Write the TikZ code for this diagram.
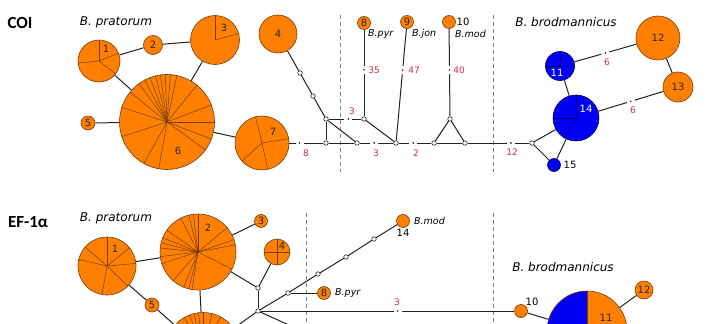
\documentclass[tikz,border=0pt]{standalone}
\usepackage{fontspec}
\setmainfont{DejaVu Sans}
\newfontfamily\headfont{Carlito}
\usepackage{tikz}
\usetikzlibrary{calc}
\usetikzlibrary{positioning}

\definecolor{hapOrange}{RGB}{255,128,0}
\definecolor{hapOrangeLine}{RGB}{120,60,10}
\definecolor{hapBlue}{RGB}{0,0,245}
\definecolor{hapBlueLine}{RGB}{0,0,100}
\definecolor{edgeGrey}{RGB}{35,35,35}
\definecolor{mutRed}{RGB}{205,45,70}

\newcommand\hapnumfont{\fontsize{10}{10}\selectfont}
\newcommand\mutfont{\fontsize{9}{9}\selectfont}
\newcommand\taxfont{\fontsize{12}{12}\selectfont\itshape}
\newcommand\shorttaxfont{\fontsize{9.5}{10}\selectfont\itshape}

\tikzset{divider/.style={draw=gray, dash pattern=on 4pt off 3pt, line width=0.7pt}}
\tikzset{hap/.style={circle, draw=hapOrangeLine, fill=hapOrange, inner sep=0pt, minimum size=#1, text=black!85, font=\hapnumfont, line width=0.6pt}}
\tikzset{hapb/.style={hap=#1, draw=hapBlueLine, fill=hapBlue, text=white}}
\tikzset{mv/.style={circle, draw=edgeGrey, fill=white, inner sep=0pt, minimum size=4.5pt, line width=0.6pt}}
\tikzset{link/.style={draw=edgeGrey, line width=1pt}}
\tikzset{slice/.style={draw=hapOrangeLine, line width=0.5pt}}
\tikzset{brk/.style={fill=white, inner sep=0pt, minimum width=8pt, minimum height=3pt, sloped,
    path picture={\fill[edgeGrey] (path picture bounding box.center) circle (0.9pt);}}}
\tikzset{mut/.style={text=mutRed, font=\mutfont, inner sep=0pt}}

\begin{document}
\begin{tikzpicture}[x=1pt, y=-1pt]
	% Default action for each node
	\tikzstyle{every node}=[inner sep=1pt];
	\useasboundingbox (0,0) rectangle (715,324);
	\clip (0,0) rectangle (715,324);

	% ---------------- COI ----------------
	\node[font=\headfont\bfseries\fontsize{17}{17}\selectfont] (coiTitle) at (20,23) {COI};
	\node[font=\taxfont] (coiPrat) at (116,22) {B. pratorum};
	\node[font=\taxfont] (coiBrod) at (566,22) {B. brodmannicus};

	\draw[divider] (340,15) -- (340,172);
	\draw[divider] (493,15) -- (493,172);

	\node[hap=42pt] (c1) at (99,61) {};
	\node[hap=19pt] (c2) at (153,45) {2};
	\node[hap=49pt] (c3) at (215,40) {};
	\node[hap=38pt] (c4) at (278,34) {4};
	\node[hap=14pt] (c5) at (88,123) {5};
	\node[hap=95pt] (c6) at (167,122) {};
	\node[hap=54pt] (c7) at (262,143) {};
	\node[hap=13pt] (c8) at (364,23) {8};
	\node[hap=13pt] (c9) at (407,22) {9};
	\node[hap=13pt] (c10) at (449,22) {};
	\node[hapb=29pt] (c11) at (560,66) {};
	\node[hap=44pt] (c12) at (658,38) {12};
	\node[hap=30pt] (c13) at (678,87) {13};
	\node[hapb=46pt] (c14) at (576,118) {};
	\node[hapb=13pt] (c15) at (554,165) {};

	\node[mv] (cm1) at (300,73) {};
	\node[mv] (cm2) at (313,96) {};
	\node[mv] (cm3) at (326,119) {};
	\node[mv] (cm4) at (326,143) {};
	\node[mv] (cm5) at (357,143) {};
	\node[mv] (cm6) at (364,119) {};
	\node[mv] (cm7) at (396,143) {};
	\node[mv] (cm8) at (434,143) {};
	\node[mv] (cm9) at (450,119) {};
	\node[mv] (cm10) at (465,143) {};
	\node[mv] (cm11) at (532,143) {};

	% Slices
	\foreach \a in {22,90,186,322} \draw[slice] (c1.center) -- (c1.\a);
	\foreach \a in {15,90} \draw[slice] (c3.center) -- (c3.\a);
	\foreach \a in {0,21,51,78,86,92,98,104,111,118,126,141,162,198,241,260,324,339}
		\draw[slice] (c6.center) -- (c6.\a);
	\foreach \a in {9,104,222,282} \draw[slice] (c7.center) -- (c7.\a);
	\foreach \a in {90,180,5} \draw[slice, draw=hapBlueLine] (c11.center) -- (c11.\a);
	\foreach \a in {90,180,240} \draw[slice, draw=hapBlueLine] (c14.center) -- (c14.\a);

	\node[font=\hapnumfont, text=black!85] (c1n) at (106,49) {1};
	\node[font=\hapnumfont, text=black!85] (c3n) at (224,28) {3};
	\node[font=\hapnumfont, text=black!85] (c6n) at (178,151) {6};
	\node[font=\hapnumfont, text=black!85] (c7n) at (273,132) {7};
	\node[font=\hapnumfont, text=white] (c11n) at (557,73) {11};
	\node[font=\hapnumfont, text=white] (c14n) at (586,109) {14};
	\node[font=\hapnumfont] (c10n) at (463,22) {10};
	\node[font=\hapnumfont] (c15n) at (570,165) {15};

	\node[font=\shorttaxfont, anchor=west] (cPyr) at (367,34) {B.pyr};
	\node[font=\shorttaxfont, anchor=west] (cJon) at (411,34) {B.jon};
	\node[font=\shorttaxfont, anchor=west] (cMod) at (454,34) {B.mod};

	% Edges
	\draw[link] (c1) -- (c2);
	\draw[link] (c2) -- (c3);
	\draw[link] (c1) -- (c6);
	\draw[link] (c3) -- (c6);
	\draw[link] (c5) -- (c6);
	\draw[link] (c6) -- (c7);
	\draw[link] (c4) -- (cm1);
	\draw[link] (cm1) -- (cm2);
	\draw[link] (cm2) -- (cm3);
	\draw[link] (c7) -- node[brk, pos=0.3] {} (cm4);
	\draw[link] (cm3) -- (cm4);
	\draw[link] (cm3) -- (cm5);
	\draw[link] (cm3) -- node[brk, pos=0.6] {} (cm6);
	\draw[link] (cm6) -- node[brk, pos=0.54] {} (c8);
	\draw[link] (cm6) -- (cm7);
	\draw[link] (cm7) -- node[brk, pos=0.63] {} (c9);
	\draw[link] (cm4) -- (cm5);
	\draw[link] (cm5) -- node[brk, pos=0.43] {} (cm7);
	\draw[link] (cm7) -- node[brk, pos=0.45] {} (cm8);
	\draw[link] (cm8) -- (cm9);
	\draw[link] (cm9) -- (cm10);
	\draw[link] (cm8) -- (cm10);
	\draw[link] (cm9) -- node[brk, pos=0.53] {} (c10);
	\draw[link] (cm10) -- node[brk, pos=0.7] {} (cm11);
	\draw[link] (cm11) -- (c14);
	\draw[link] (cm11) -- (c15);
	\draw[link] (c15) -- (c14);
	\draw[link] (c14) -- (c11);
	\draw[link] (c11) -- node[brk, pos=0.5] {} (c12);
	\draw[link] (c12) -- (c13);
	\draw[link] (c13) -- node[brk, pos=0.5] {} (c14);

	% Mutation counts
	\node[mut] (m8) at (306,153) {8};
	\node[mut] (m3a) at (352,111) {3};
	\node[mut] (m3b) at (376,153) {3};
	\node[mut] (m2) at (416,153) {2};
	\node[mut] (m12) at (512,152) {12};
	\node[mut] (m35) at (374,70) {35};
	\node[mut] (m47) at (414,70) {47};
	\node[mut] (m40) at (459,70) {40};
	\node[mut] (m6a) at (607,62) {6};
	\node[mut] (m6b) at (633,110) {6};

	% ---------------- EF-1a ----------------
	\node[font=\headfont\bfseries\fontsize{17}{17}\selectfont] (efTitle) at (28,222) {EF-1α};
	\node[font=\taxfont] (efPrat) at (116,218) {B. pratorum};
	\node[font=\taxfont] (efBrod) at (563,267) {B. brodmannicus};

	\draw[divider] (306,213) -- (306,330);
	\draw[divider] (493,213) -- (493,330);

	\node[hap=58pt] (e1) at (107,266) {};
	\node[hap=76pt] (e2) at (198,252) {};
	\node[hap=13pt] (e3) at (261,221) {3};
	\node[hap=26pt] (e4) at (277,252) {};
	\node[hap=14pt] (e5) at (152,305) {5};
	\node[hap=75pt] (e6) at (203,350) {};
	\node[hap=13pt] (e8) at (324,293) {8};
	\node[hap=13pt] (e14) at (403,221) {};
	\node[hap=13pt] (e10) at (521,311) {};
	\node[hap=80pt, path picture={\fill[hapBlue] (path picture bounding box.north west) rectangle (path picture bounding box.south);}] (e11) at (587,331) {};
	\node[hap=18pt] (e12) at (644,290) {12};

	\node[mv] (em1) at (258,288) {};
	\node[mv] (em2) at (258,311) {};
	\node[mv] (em3) at (288,293) {};
	\node[mv] (em4) at (318,274) {};
	\node[mv] (em5) at (346,257) {};
	\node[mv] (em6) at (374,239) {};
	\coordinate (efOut) at (300,330);

	% Slices
	\foreach \a in {5,39,90,139,167,260,316} \draw[slice] (e1.center) -- (e1.\a);
	\foreach \a in {11,19,40,90,97,104,117,145,158,166,174,187,198,229,248,256,261,333}
		\draw[slice] (e2.center) -- (e2.\a);
	\foreach \a in {0,90,180,270} \draw[slice] (e4.center) -- (e4.\a);
	\foreach \a in {62,76,90,97,104,111,120} \draw[slice] (e6.center) -- (e6.\a);
	\draw[slice] (e11.north) -- (e11.south);

	\node[font=\hapnumfont, text=black!85] (e1n) at (115,249) {1};
	\node[font=\hapnumfont, text=black!85] (e2n) at (208,228) {2};
	\node[font=\hapnumfont, text=black!85] (e4n) at (282,246) {4};
	\node[font=\hapnumfont, text=black!85] (e11n) at (606,318) {11};
	\node[font=\hapnumfont] (e14n) at (403,233) {14};
	\node[font=\hapnumfont] (e10n) at (532,302) {10};

	\node[font=\shorttaxfont, anchor=west] (ePyr) at (334,293) {B.pyr};
	\node[font=\shorttaxfont, anchor=west] (eMod) at (413,221) {B.mod};

	% Edges
	\draw[link] (e1) -- (e2);
	\draw[link] (e1) -- (e5);
	\draw[link] (e5) -- (e6);
	\draw[link] (e2) -- (e3);
	\draw[link] (e2) -- (e6);
	\draw[link] (e2) -- (em1);
	\draw[link] (e4) -- (em1);
	\draw[link] (em1) -- (em2);
	\draw[link] (em2) -- (e6);
	\draw[link] (em2) -- (efOut);
	\draw[link] (em2) -- (em3);
	\draw[link] (em3) -- (e8);
	\draw[link] (em3) -- (em4);
	\draw[link] (em4) -- (em5);
	\draw[link] (em5) -- (em6);
	\draw[link] (em6) -- (e14);
	\draw[link] (em2) -- node[brk, pos=0.54] {} (e10);
	\draw[link] (e10) -- (e11);
	\draw[link] (e11) -- (e12);

	\node[mut] (m3e) at (397,302) {3};
\end{tikzpicture}
\end{document}
